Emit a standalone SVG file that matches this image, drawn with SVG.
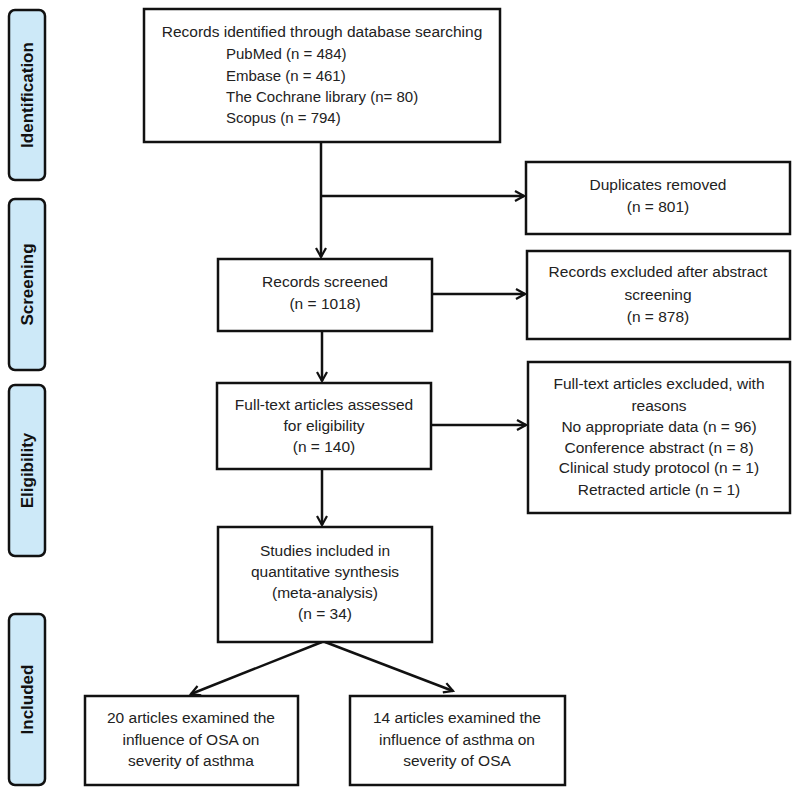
<svg xmlns="http://www.w3.org/2000/svg" width="797" height="797" viewBox="0 0 797 797">
<style>
.box{fill:#fff;stroke:#111;stroke-width:2.5}
.side{fill:#cde9f8;stroke:#111;stroke-width:2.5}
.t{font-family:"Liberation Sans",Arial,sans-serif;font-size:15.5px;fill:#222;text-anchor:middle}
.tl{font-family:"Liberation Sans",Arial,sans-serif;font-size:15px;fill:#222}
.s{font-family:"Liberation Sans",Arial,sans-serif;font-size:17px;font-weight:bold;fill:#111;text-anchor:middle}
.c{fill:none;stroke:#111;stroke-width:2.5}
</style>
<defs>
<marker id="ah" viewBox="0 0 12 12" refX="10" refY="6" markerWidth="12" markerHeight="12" markerUnits="userSpaceOnUse" orient="auto">
<path d="M1,1 L10,6 L1,11" fill="none" stroke="#111" stroke-width="2.2"/>
</marker>
</defs>
<rect width="797" height="797" fill="#fff"/>
<g id="side-identification"><rect class="side" x="9" y="10" width="36" height="170" rx="6"/><text class="s" transform="translate(33,95) rotate(-90)">Identification</text></g>
<g id="side-screening"><rect class="side" x="9" y="199" width="36" height="171" rx="6"/><text class="s" transform="translate(33,284.5) rotate(-90)">Screening</text></g>
<g id="side-eligibility"><rect class="side" x="9" y="385" width="36" height="171" rx="6"/><text class="s" transform="translate(33,470.5) rotate(-90)">Eligibility</text></g>
<g id="side-included"><rect class="side" x="9" y="614" width="36" height="171" rx="6"/><text class="s" transform="translate(33,699.5) rotate(-90)">Included</text></g>
<g id="connectors">
<line class="c" x1="321" y1="142" x2="321" y2="257" marker-end="url(#ah)"/>
<line class="c" x1="321" y1="196" x2="524" y2="196" marker-end="url(#ah)"/>
<line class="c" x1="432" y1="294" x2="525" y2="294" marker-end="url(#ah)"/>
<line class="c" x1="322" y1="331" x2="322" y2="381" marker-end="url(#ah)"/>
<line class="c" x1="431" y1="425" x2="526" y2="425" marker-end="url(#ah)"/>
<line class="c" x1="322" y1="469" x2="322" y2="525" marker-end="url(#ah)"/>
<line class="c" x1="322" y1="642" x2="191" y2="694" marker-end="url(#ah)"/>
<line class="c" x1="325" y1="642" x2="453" y2="691" marker-end="url(#ah)"/>
</g>
<g id="records-identified"><rect class="box" x="144" y="9" width="356" height="133"/>
<text class="t" x="322" y="37">Records identified through database searching</text>
<text class="tl" x="226" y="59">PubMed (n = 484)</text>
<text class="tl" x="226" y="81">Embase  (n = 461)</text>
<text class="tl" x="226" y="102">The Cochrane library (n= 80)</text>
<text class="tl" x="226" y="123">Scopus (n = 794)</text></g>
<g id="duplicates"><rect class="box" x="526" y="162" width="264" height="72"/>
<text class="t" x="658" y="190">Duplicates removed</text>
<text class="t" x="658" y="212">(n = 801)</text></g>
<g id="screened"><rect class="box" x="218" y="259" width="214" height="72"/>
<text class="t" x="325" y="287">Records screened</text>
<text class="t" x="325" y="309">(n = 1018)</text></g>
<g id="excluded-abstract"><rect class="box" x="527" y="251" width="263" height="88"/>
<text class="t" x="658" y="277">Records excluded after abstract</text>
<text class="t" x="658" y="300">screening</text>
<text class="t" x="658" y="322">(n = 878)</text></g>
<g id="fulltext"><rect class="box" x="217" y="383" width="214" height="86"/>
<text class="t" x="324" y="410">Full-text articles assessed</text>
<text class="t" x="324" y="431">for eligibility</text>
<text class="t" x="324" y="452">(n = 140)</text></g>
<g id="fulltext-excluded"><rect class="box" x="528" y="362" width="262" height="151"/>
<text class="t" x="659" y="389">Full-text articles excluded, with</text>
<text class="t" x="659" y="411">reasons</text>
<text class="t" x="659" y="432">No appropriate data (n = 96)</text>
<text class="t" x="659" y="453">Conference abstract (n = 8)</text>
<text class="t" x="659" y="473">Clinical study protocol (n = 1)</text>
<text class="t" x="659" y="495">Retracted article (n = 1)</text></g>
<g id="studies"><rect class="box" x="218" y="527" width="214" height="115"/>
<text class="t" x="325" y="556">Studies included in</text>
<text class="t" x="325" y="577">quantitative synthesis</text>
<text class="t" x="325" y="598">(meta-analysis)</text>
<text class="t" x="325" y="619">(n = 34)</text></g>
<g id="osa-asthma"><rect class="box" x="85" y="696" width="213" height="89"/>
<text class="t" x="191" y="723">20 articles examined the</text>
<text class="t" x="191" y="745">influence of OSA on</text>
<text class="t" x="191" y="766">severity of asthma</text></g>
<g id="asthma-osa"><rect class="box" x="350" y="696" width="215" height="89"/>
<text class="t" x="457" y="723">14 articles examined the</text>
<text class="t" x="457" y="745">influence of asthma on</text>
<text class="t" x="457" y="766">severity of OSA</text></g>
</svg>
